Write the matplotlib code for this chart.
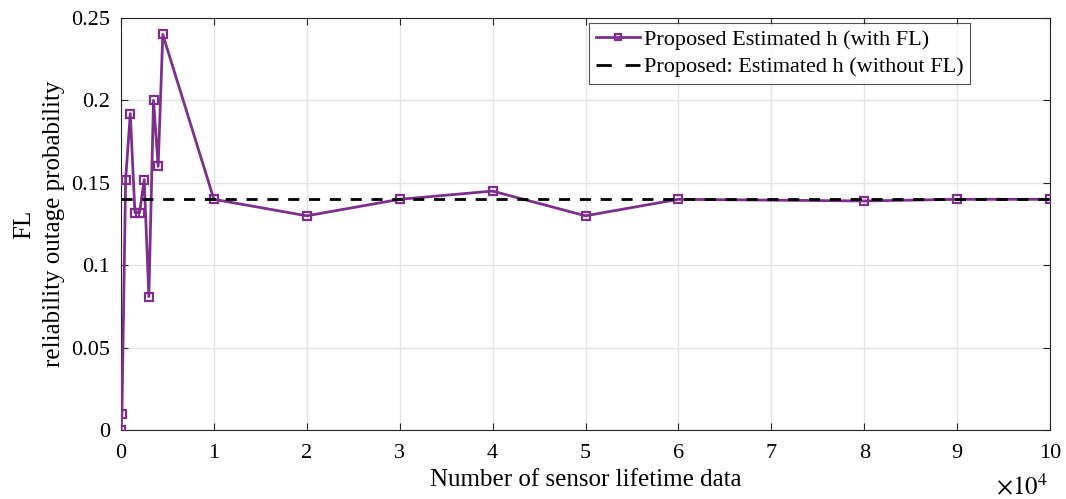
import numpy as np
import matplotlib.pyplot as plt

plt.rcParams['font.family'] = ['Liberation Serif', 'DejaVu Serif']
plt.rcParams['mathtext.fontset'] = 'stix'

# data
n_data = [0, 100, 500, 1000, 1500, 2000, 2500, 3000, 3500, 4000, 4500,
          10000, 20000, 30000, 40000, 50000, 60000, 80000, 90000, 100000]
outage_fl = [0.0, 0.01, 0.152, 0.192, 0.132, 0.132, 0.152, 0.081, 0.2, 0.16, 0.24,
             0.14, 0.13, 0.14, 0.145, 0.13, 0.14, 0.139, 0.14, 0.14]
outage_nofl = 0.14

purple = '#7E2F8E'

fig = plt.figure(figsize=(10.66, 4.99), dpi=100)
ax = fig.add_axes([0.1135, 0.138, 0.8715, 0.826])

ax.plot(n_data, outage_fl, color=purple, lw=2, marker='s', markersize=6,
        markerfacecolor='none', markeredgewidth=1.6,
        label='Proposed Estimated h (with FL)', zorder=3)
ax.plot([0, 100000], [outage_nofl, outage_nofl], color='black', lw=2,
        ls=(0, (4, 3.5)), label='Proposed: Estimated h (without FL)', zorder=4)

ax.set_xlim(0, 100000)
ax.set_ylim(0, 0.25)
ax.set_xticks(np.arange(0, 100001, 10000))
ax.set_xticklabels([str(i) for i in range(11)])
ax.set_yticks([0, 0.05, 0.1, 0.15, 0.2, 0.25])
ax.set_yticklabels(['0', '0.05', '0.1', '0.15', '0.2', '0.25'])
ax.tick_params(direction='in', labelsize=16, length=5, top=True, right=True,
               color='#262626', pad=8)
ax.tick_params(axis='x', pad=10)
ax.grid(True, color='#e3e3e3', lw=1)
ax.set_axisbelow(True)
for s in ax.spines.values():
    s.set_color('#262626')
    s.set_linewidth(0.8)

ax.set_xlabel('Number of sensor lifetime data', fontsize=18, labelpad=4)
ax.set_ylabel('FL\nreliability outage probability', fontsize=18, labelpad=4,
              linespacing=1.5)
ax.text(0.998, -0.105, r'$\times10^4$', transform=ax.transAxes, fontsize=18,
        ha='right', va='top')

leg = ax.legend(loc='upper right', bbox_to_anchor=(0.914, 0.988), fontsize=16,
                frameon=True, fancybox=False, edgecolor='#262626', borderpad=0.3,
                labelspacing=0.3, handlelength=2.0, handletextpad=0.15,
                borderaxespad=0, markerscale=0.8)
leg.get_frame().set_linewidth(0.8)
# two full dashes in the legend sample, as in the original
leg.get_lines()[1].set_linestyle((0, (5.5, 5)))

fig.savefig('out.png', dpi=100)
